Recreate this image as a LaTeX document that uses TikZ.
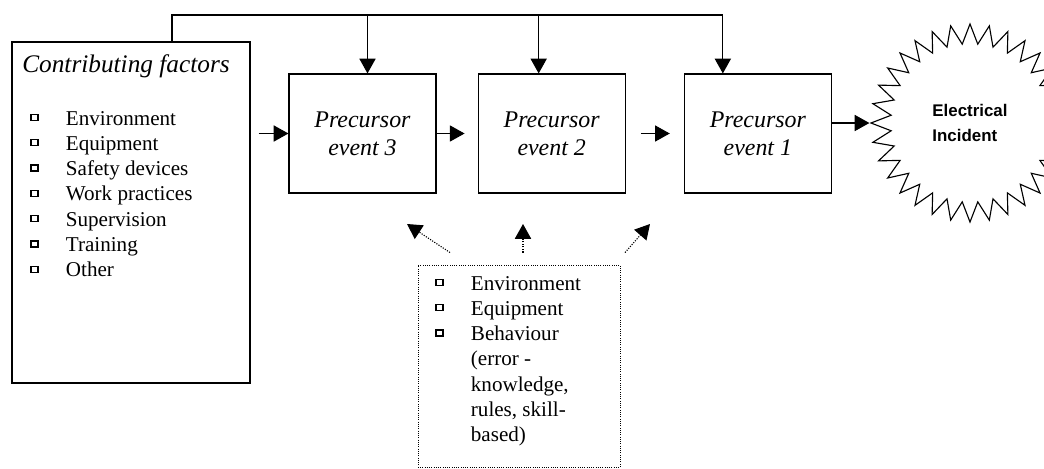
\documentclass[tikz,border=0pt]{standalone}
\usepackage{fontspec}
\setmainfont{Liberation Serif}
\newfontfamily\headfont{Liberation Sans}
\usepackage{tikz}
\usetikzlibrary{shapes.geometric, arrows.meta, positioning, calc}
\newcommand{\sqbul}{\raisebox{0.25em}{\setlength{\fboxsep}{0pt}\setlength{\fboxrule}{0.9pt}\fbox{\rule{0pt}{3.4pt}\hspace{4.2pt}}}}
\tikzset{
  eventbox/.style={rectangle, draw, line width=0.8pt, inner sep=0pt,
    minimum width=3.675cm, minimum height=2.975cm, align=center,
    font=\fontsize{17}{20}\selectfont\itshape},
  factorbox/.style={rectangle, draw, line width=0.8pt, inner sep=0pt},
  dotbox/.style={rectangle, draw, densely dotted, line width=0.6pt, inner sep=0pt},
  listtext/.style={inner sep=0pt, anchor=base west, font=\fontsize{15}{18}\selectfont},
  arrow/.style={-{Triangle[length=10.5pt,width=11.5pt]}, line width=0.8pt},
  dotarrow/.style={-{Triangle[length=10.5pt,width=11.5pt]}, densely dotted, line width=0.8pt},
  line/.style={line width=0.8pt}
}
\begin{document}
\begin{tikzpicture}[x=0.025cm, y=-0.025cm]
  \useasboundingbox (0,0) rectangle (1044,468);

  % left box with contributing factors
  \node [factorbox, minimum width=5.95cm, minimum height=8.525cm] (cf) at (131,212.5) {};
  \node [inner sep=0pt, anchor=base, font=\fontsize{18}{21}\selectfont\itshape] (cftitle) at (126,72) {Contributing factors};
  \node [listtext] (cflist) at (30,125) {%
    \begin{tabular}[t]{@{}l@{\hspace{0.68cm}}l@{}}
      \sqbul & Environment\\
      \sqbul & Equipment\\
      \sqbul & Safety devices\\
      \sqbul & Work practices\\
      \sqbul & Supervision\\
      \sqbul & Training\\
      \sqbul & Other
    \end{tabular}};

  % precursor events
  \node [eventbox] (p3) at (362.5,133.5) {Precursor\\event 3};
  \node [eventbox, right=1.025cm of p3] (p2) {Precursor\\event 2};
  \node [eventbox, right=1.45cm of p2] (p1) {Precursor\\event 1};

  % incident
  \node [star, star points=32, star point ratio=1.25, draw, line width=0.8pt,
    minimum size=4.95cm, inner sep=0pt, align=left,
    font=\headfont\fontsize{12}{18}\selectfont\bfseries] (inc) at (970,123) {Electrical\\Incident};

  % dotted box
  \node [dotbox, minimum width=5.05cm, minimum height=5.05cm] (bx) at (519,366) {};
  \node [listtext] (bxlist) at (435,290) {%
    \begin{tabular}[t]{@{}l@{\hspace{0.68cm}}l@{}}
      \sqbul & Environment\\
      \sqbul & Equipment\\
      \sqbul & Behaviour\\
             & (error -\\
             & knowledge,\\
             & rules, skill-\\
             & based)
    \end{tabular}};

  % flow arrows
  \draw [arrow, shorten <=0.2cm] (cf.east |- p3.west) -- (p3.west);
  \draw [arrow, shorten >=0.325cm] (p3) -- (p2);
  \draw [arrow, shorten <=0.375cm, shorten >=0.35cm] (p2) -- (p1);
  \draw [arrow] (p1.east |- inc.west) -- (inc.west);

  % top line
  \coordinate (bus) at (0,15);
  \draw [line] ([xshift=1.025cm]cf.north) |- ([xshift=-0.875cm]p1.north |- bus);
  \draw [arrow] ([xshift=0.125cm]p3.north |- bus) -- ([xshift=0.125cm]p3.north);
  \draw [arrow] ([xshift=-0.325cm]p2.north |- bus) -- ([xshift=-0.325cm]p2.north);
  \draw [arrow] ([xshift=-0.875cm]p1.north |- bus) -- ([xshift=-0.875cm]p1.north);

  % dotted arrows
  \coordinate (t3) at (407,224);
  \coordinate (t2) at (523,224);
  \coordinate (t1) at (650,224);
  \draw [dotarrow] ($(bx.north)+(-69,-12)$) -- (t3);
  \draw [dotarrow] ($(bx.north)+(4,-12)$) -- (t2);
  \draw [dotarrow] ($(bx.north)+(106,-12)$) -- (t1);
\end{tikzpicture}
\end{document}
